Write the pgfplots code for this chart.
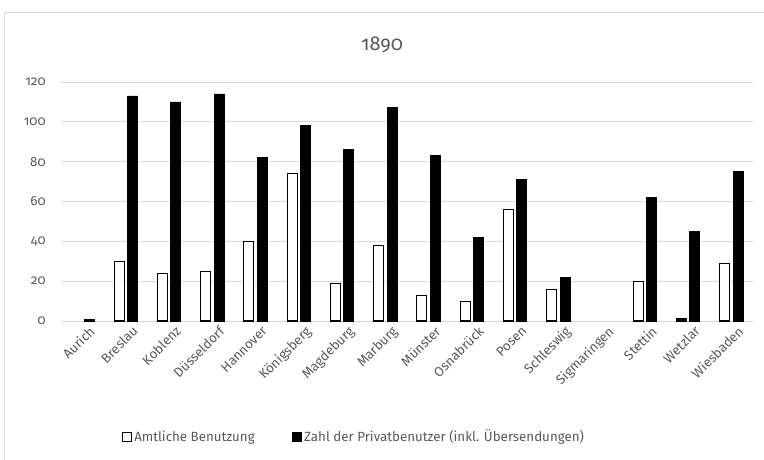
\documentclass[border=0pt]{standalone}
\usepackage{fontspec}
\setmainfont{Fira Sans}[Numbers=OldStyle]
\usepackage{pgfplots}
\pgfplotsset{compat=1.18}
\definecolor{txt}{HTML}{595959}
\definecolor{gridgray}{HTML}{D9D9D9}
\begin{document}
\begin{tikzpicture}
\path[use as bounding box] (0,0) rectangle (573pt,345pt);
\draw[gridgray, line width=0.6pt] (3.5pt,0) -- (3.5pt,336pt) -- (573pt,336pt);
\node[txt, font=\fontsize{15}{17}\selectfont] at (286.5pt,311pt) {1890};
\begin{axis}[
  at={(45.75pt,104.25pt)}, anchor=south west,
  scale only axis, width=519pt, height=179.25pt,
  ymin=0, ymax=120, ytick={0,20,...,120},
  xmin=-0.5, xmax=15.5,
  xtick={0,...,15},
  xticklabels={Aurich,Breslau,Koblenz,Düsseldorf,Hannover,Königsberg,Magdeburg,Marburg,Münster,Osnabrück,Posen,Schleswig,Sigmaringen,Stettin,Wetzlar,Wiesbaden},
  x tick label style={rotate=45, anchor=north east, inner sep=1pt, yshift=-4pt, xshift=2pt, font=\fontsize{10}{12}\selectfont},
  y tick label style={font=\fontsize{10}{12}\selectfont},
  ticklabel style={text=txt},
  /pgf/number format/assume math mode=true,
  ymajorgrids, xmajorgrids=false,
  grid style={draw=gridgray, line width=0.6pt},
  axis lines*=left,
  x axis line style={draw=gridgray, line width=0.6pt, -},
  y axis line style={draw=none},
  major tick length=0pt,
  yticklabel style={xshift=-8pt},
  ybar=2.5pt, bar width=7.5pt,
  legend style={draw=none, at={(0.424,-0.485)}, anchor=center, legend columns=2,
    font=\fontsize{10}{12}\selectfont, text=txt,
    /tikz/every even column/.append style={column sep=26pt}},
  legend image code/.code={\draw[#1, line width=0.6pt] (0pt,-3.2pt) rectangle (6.5pt,3.3pt);},
  clip=false,
]
\addplot[draw=black, fill=white, line width=0.8pt] coordinates {
(1,30) (2,24) (3,25) (4,40) (5,74) (6,19) (7,38) (8,13) (9,10) (10,56) (11,16) (13,20) (14,1) (15,29)};
\addlegendentry{Amtliche Benutzung}
\addplot[draw=black, fill=black, line width=0.6pt] coordinates {
(0,1) (1,113) (2,110) (3,114) (4,82) (5,98) (6,86) (7,107) (8,83) (9,42) (10,71) (11,22) (13,62) (14,45) (15,75)};
\addlegendentry{Zahl der Privatbenutzer (inkl. Übersendungen)}
\end{axis}
\end{tikzpicture}
\end{document}
